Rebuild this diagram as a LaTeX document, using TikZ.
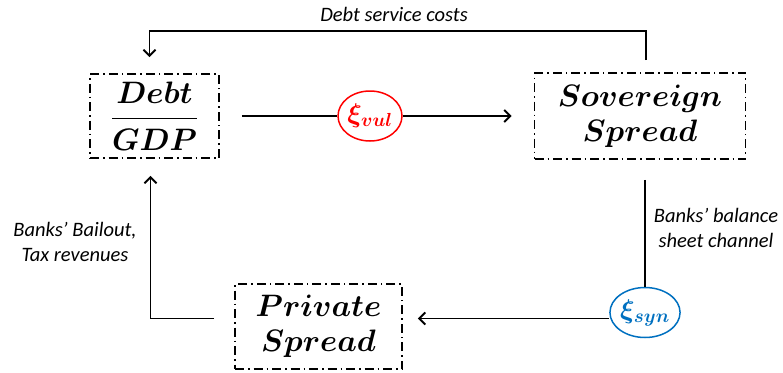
\RequirePackage{fix-cm}
\documentclass[tikz,border=0pt]{standalone}
\usepackage{amsmath}
\usepackage{fontspec}
\newfontfamily\lblfont{Carlito}
\usetikzlibrary{shapes.geometric,arrows.meta}
\definecolor{synblue}{RGB}{0,112,192}

\begin{document}
\begin{tikzpicture}[x=1pt,y=-1pt,
  box/.style = {draw, line width=1.9pt, dash pattern=on 9pt off 4pt on 1.5pt off 4pt, align=center, inner sep=0pt, font=\fontsize{31}{35}\selectfont\boldmath},
  shock/.style = {draw, ellipse, line width=1.5pt, minimum width=62pt, minimum height=50pt, inner sep=0pt, font=\fontsize{27}{28}\selectfont\boldmath},
  lbl/.style = {font=\lblfont\itshape\fontsize{20.5}{25}\selectfont, align=center},
  link/.style = {line width=1.9pt, -{Straight Barb[length=6pt,width=12pt]}}]
\useasboundingbox (0,0) rectangle (783,372);
\node[box, minimum width=129pt, minimum height=84pt] (dg) at (154.5,116) {$\dfrac{Debt}{GDP}$};
\node[box, minimum width=211pt, minimum height=86pt] (sov) at (640,116) {$Sovereign$\\$Spread$};
\node[box, minimum width=167pt, minimum height=85pt] (ps) at (318.5,326.5) {$Private$\\$Spread$};
\node[shock, red] (vul) at (370,116) {$\xi_{vul}$};
\node[shock, synblue] (syn) at (645,312.5) {$\xi_{syn}$};
\node[lbl] (dsc) at (394,14) {Debt service costs};
\node[lbl] (bbs) at (716,228) {Banks’ balance\\sheet channel};
\node[lbl] (bbt) at (75,242) {Banks’ Bailout,\\Tax revenues};
% loop
\draw[link] ([xshift=6pt,yshift=12pt]sov.north) -- ++(0,-29) -| ([xshift=-5pt,yshift=16pt]dg.north);
\draw[line width=1.9pt] ([xshift=22pt]dg.east) -- (vul.west);
\draw[link] (vul.east) -- ([xshift=-22pt]sov.west);
\draw[line width=1.9pt] ([xshift=5pt,yshift=-20pt]sov.south) -- (syn.north);
\draw[link] ([yshift=-6pt]syn.west) -- ([xshift=15pt,yshift=8pt]ps.east);
\draw[link] ([xshift=-20pt,yshift=8pt]ps.west) -| ([xshift=-4pt,yshift=-17pt]dg.south);
\end{tikzpicture}
\end{document}
